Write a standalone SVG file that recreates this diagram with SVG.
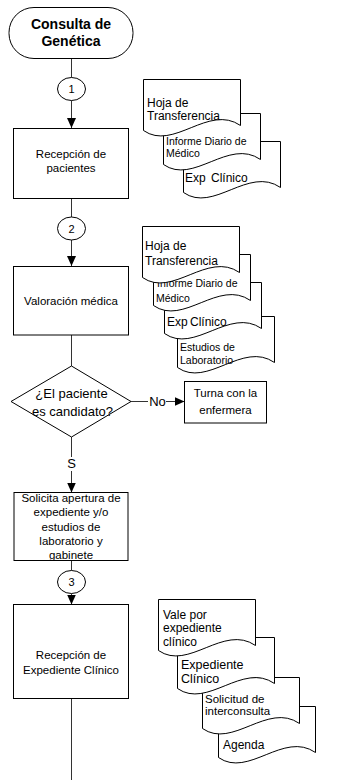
<svg xmlns="http://www.w3.org/2000/svg" xmlns:xlink="http://www.w3.org/1999/xlink" width="345" height="780" viewBox="0 0 345 780">
<style>
text{font-family:"Liberation Sans",Arial,sans-serif;fill:#000}
.box{fill:#fff;stroke:#000;stroke-width:1}
.doc{fill:#fff;stroke:#000;stroke-width:1}
.con{fill:none;stroke:#333;stroke-width:1}
.t115{font-size:11.5px;text-anchor:middle}
.t12{font-size:12px}
.t105{font-size:10.5px}
.t13{font-size:13px}
.num{font-size:11px;text-anchor:middle}
</style>
<defs>
<marker id="arr" viewBox="0 0 10 10" refX="10" refY="5" markerWidth="10" markerHeight="9" markerUnits="userSpaceOnUse" orient="auto" preserveAspectRatio="none"><path d="M0,0 L10,5 L0,10 Z" fill="#000"/></marker>
<path id="doc" d="M0,0 H97 V46 C65,24 30,72 0,51 Z"/>
</defs>
<rect width="345" height="780" fill="#fff"/>

<g id="connectors">
<line class="con" x1="71.5" y1="58.5" x2="71.5" y2="77.5"/>
<line class="con" x1="71.5" y1="100.5" x2="71.5" y2="128" marker-end="url(#arr)"/>
<line class="con" x1="71.5" y1="198.5" x2="71.5" y2="217"/>
<line class="con" x1="71.5" y1="240" x2="71.5" y2="266" marker-end="url(#arr)"/>
<line class="con" x1="71.5" y1="335" x2="71.5" y2="366"/>
<line class="con" x1="131" y1="401.5" x2="148" y2="401.5"/>
<line class="con" x1="166" y1="401.5" x2="184.5" y2="401.5" marker-end="url(#arr)"/>
<line class="con" x1="71.5" y1="437" x2="71.5" y2="457"/>
<line class="con" x1="71.5" y1="471" x2="71.5" y2="492.5" marker-end="url(#arr)"/>
<line class="con" x1="71.5" y1="560.5" x2="71.5" y2="570.5"/>
<line class="con" x1="71.5" y1="593.5" x2="71.5" y2="604.5" marker-end="url(#arr)"/>
<line class="con" x1="71.5" y1="698.5" x2="71.5" y2="780"/>
<text class="t13" x="157.5" y="406" text-anchor="middle">No</text>
<text class="t13" x="71.5" y="467.5" text-anchor="middle">S</text>
</g>

<g id="start">
<rect class="box" x="9" y="7.5" width="124" height="51" rx="25" ry="25"/>
<text x="71" y="29" font-size="14" font-weight="bold" text-anchor="middle">Consulta de</text>
<text x="71" y="46" font-size="14" font-weight="bold" text-anchor="middle">Genética</text>
</g>

<g id="c1"><ellipse class="box" cx="71.5" cy="89" rx="14" ry="11.5"/><text class="num" x="71.5" y="93">1</text></g>
<g id="c2"><ellipse class="box" cx="71.5" cy="228.5" rx="14" ry="11.5"/><text class="num" x="71.5" y="232.5">2</text></g>
<g id="c3"><ellipse class="box" cx="71.5" cy="582" rx="14" ry="11.5"/><text class="num" x="71.5" y="586">3</text></g>

<g id="recepcion">
<rect class="box" x="13.5" y="128.5" width="115" height="70"/>
<text class="t115" x="71" y="158">Recepción de</text>
<text class="t115" x="71" y="172">pacientes</text>
</g>

<g id="valoracion">
<rect class="box" x="13.5" y="266.5" width="115" height="68.5"/>
<text class="t115" x="71" y="304.5">Valoración médica</text>
</g>

<g id="decision">
<polygon class="box" points="71.5,366 131,401.5 71.5,437 11,401.5"/>
<text class="t13" x="71.5" y="397.5" text-anchor="middle">¿El paciente</text>
<text class="t13" x="72.5" y="415.5" text-anchor="middle">es candidato?</text>
</g>

<g id="turna">
<rect class="box" x="184.5" y="381.5" width="82" height="41.5"/>
<text class="t115" x="225.5" y="397">Turna con la</text>
<text class="t115" x="225.5" y="414">enfermera</text>
</g>

<g id="solicita">
<rect class="box" x="14" y="492.5" width="114" height="68"/>
<text class="t115" x="71" y="502">Solicita apertura de</text>
<text class="t115" x="71" y="516">expediente y/o</text>
<text class="t115" x="71" y="530.5">estudios de</text>
<text class="t115" x="71" y="545">laboratorio y</text>
<text class="t115" x="71" y="559">gabinete</text>
</g>

<g id="recepcion-exp">
<rect class="box" x="13.5" y="604.5" width="115" height="94"/>
<text class="t115" x="71" y="659">Recepción de</text>
<text class="t115" x="71" y="674">Expediente Clínico</text>
</g>

<!-- document stack 1 -->
<g id="doc1c"><use class="doc" href="#doc" xlink:href="#doc" x="183.5" y="141.5"/><text class="t12" x="185" y="182">Exp<tspan x="211">Clínico</tspan></text></g>
<g id="doc1b"><use class="doc" href="#doc" xlink:href="#doc" x="163.5" y="113.5"/><text class="t105" x="166" y="145">Informe Diario de</text><text class="t105" x="166" y="157">Médico</text></g>
<g id="doc1a"><use class="doc" href="#doc" xlink:href="#doc" x="143.5" y="79.5"/><text class="t12" x="147" y="107">Hoja de</text><text class="t12" x="147" y="120">Transferencia</text></g>

<!-- document stack 2 -->
<g id="doc2d"><use class="doc" href="#doc" xlink:href="#doc" x="177.5" y="316.5"/><text class="t105" x="180" y="351">Estudios de</text><text class="t105" x="180" y="364">Laboratorio</text></g>
<g id="doc2c"><use class="doc" href="#doc" xlink:href="#doc" x="164.5" y="282.5"/><text class="t12" x="167" y="326">Exp<tspan x="190">Clínico</tspan></text></g>
<g id="doc2b"><use class="doc" href="#doc" xlink:href="#doc" x="153.5" y="254.5"/><text class="t105" x="157" y="287">Informe Diario de</text><text class="t105" x="156" y="302">Médico</text></g>
<g id="doc2a"><use class="doc" href="#doc" xlink:href="#doc" x="142.5" y="226.5"/><text class="t12" x="145" y="250">Hoja de</text><text class="t12" x="145" y="265">Transferencia</text></g>

<!-- document stack 3 -->
<g id="doc3d"><use class="doc" href="#doc" xlink:href="#doc" x="218.5" y="706.5"/><text class="t12" x="223" y="749">Agenda</text></g>
<g id="doc3c"><use class="doc" href="#doc" xlink:href="#doc" x="202.5" y="677.5"/><text x="205" y="703" font-size="11.5">Solicitud de</text><text x="205" y="715" font-size="11.5">interconsulta</text></g>
<g id="doc3b"><use class="doc" href="#doc" xlink:href="#doc" x="177.5" y="637.5"/><text x="181" y="669" font-size="12.5">Expediente</text><text x="181" y="683" font-size="12.5">Clínico</text></g>
<g id="doc3a"><use class="doc" href="#doc" xlink:href="#doc" x="158.5" y="599.5"/><text class="t12" x="163" y="619">Vale por</text><text class="t12" x="163" y="632">expediente</text><text class="t12" x="163" y="646">clínico</text></g>
</svg>
